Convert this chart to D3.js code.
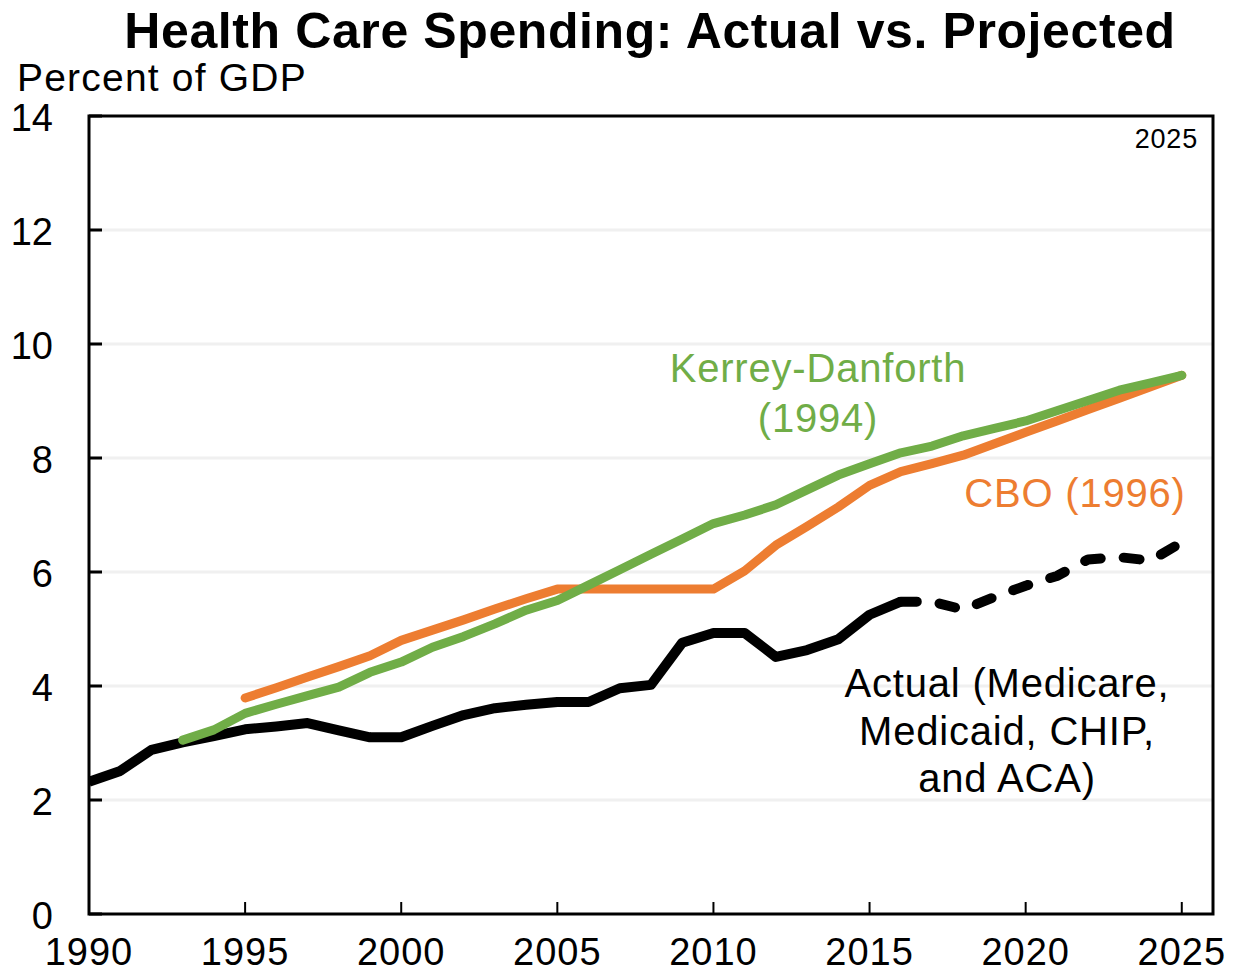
<!DOCTYPE html>
<html>
<head>
<meta charset="utf-8">
<script src="https://cdn.jsdelivr.net/npm/d3@7"></script>
<style>
  body { margin: 0; background: #fff; }
  text { font-family: "Liberation Sans", Arial, sans-serif; }
</style>
</head>
<body>
<div id="chart"></div>
<script>
let w = 1234;
let h = 973;

// data
let actualYears = d3.range(1990, 2026);
let actualValues = [2.32, 2.51, 2.88, 3.01, 3.12, 3.24, 3.29, 3.35, 3.22, 3.1,
    3.1, 3.3, 3.49, 3.61, 3.67, 3.72, 3.72, 3.96, 4.02, 4.76,
    4.93, 4.93, 4.51, 4.63, 4.82, 5.25, 5.48, 5.48, 5.34, 5.56,
    5.76, 5.93, 6.22, 6.26, 6.2, 6.52];
let actualSolidEnd = 2016;

let cboYears = d3.range(1995, 2026);
let cboValues = [3.79, 3.97, 4.16, 4.34, 4.53, 4.8, 4.98, 5.16, 5.35, 5.53,
    5.7, 5.7, 5.7, 5.7, 5.7, 5.7, 6.02, 6.47, 6.8, 7.14,
    7.52, 7.76, 7.9, 8.05, 8.25, 8.45, 8.65, 8.85, 9.05, 9.25, 9.45];

let kdYears = d3.range(1993, 2026);
let kdValues = [3.05, 3.23, 3.52, 3.68, 3.83, 3.98, 4.24, 4.42, 4.68, 4.87,
    5.09, 5.33, 5.5, 5.77, 6.04, 6.31, 6.58, 6.85, 7.0, 7.18,
    7.44, 7.7, 7.9, 8.09, 8.21, 8.39, 8.52, 8.65, 8.83, 9.01,
    9.19, 9.32, 9.45];

let yTicks = [0, 2, 4, 6, 8, 10, 12, 14];
let xTicks = [1990, 1995, 2000, 2005, 2010, 2015, 2020, 2025];

let plotLeft = 89, plotRight = 1213, plotTop = 116, plotBottom = 914;

let svg = d3.select("#chart")
    .append("svg")
    .attr("width", w)
    .attr("height", h);

let x = d3.scaleLinear().domain([1990, 2026]).range([plotLeft, plotRight]);
let y = d3.scaleLinear().domain([0, 14]).range([plotBottom, plotTop]);

// gridlines
svg.selectAll(".grid")
    .data(yTicks.filter(d => d > 0 && d < 14))
    .enter()
    .append("line")
    .attr("class", "grid")
    .attr("x1", plotLeft)
    .attr("x2", plotRight)
    .attr("y1", d => y(d))
    .attr("y2", d => y(d))
    .attr("stroke", "#f0f0f0")
    .attr("stroke-width", 3);

// clip so lines stop at the frame
svg.append("clipPath").attr("id", "plotclip")
    .append("rect")
    .attr("x", plotLeft).attr("y", plotTop)
    .attr("width", plotRight - plotLeft).attr("height", plotBottom - plotTop);

let line = d3.line()
    .x(d => x(d[0]))
    .y(d => y(d[1]));

let actual = actualYears.map((yr, i) => [yr, actualValues[i]]);
let cbo = cboYears.map((yr, i) => [yr, cboValues[i]]);
let kd = kdYears.map((yr, i) => [yr, kdValues[i]]);

let plot = svg.append("g").attr("clip-path", "url(#plotclip)");

// actual first, projections drawn over it
plot.append("path")
    .datum(actual.filter(d => d[0] <= actualSolidEnd))
    .attr("d", line)
    .attr("fill", "none")
    .attr("stroke", "#000")
    .attr("stroke-width", 10)
    .attr("stroke-linejoin", "round");

plot.append("path")
    .datum(actual.filter(d => d[0] >= actualSolidEnd))
    .attr("d", line)
    .attr("fill", "none")
    .attr("stroke", "#000")
    .attr("stroke-width", 10)
    .attr("stroke-linecap", "round")
    .attr("stroke-linejoin", "round")
    .attr("stroke-dasharray", "16,23");

plot.append("path")
    .datum(cbo)
    .attr("d", line)
    .attr("fill", "none")
    .attr("stroke", "#ED7D31")
    .attr("stroke-width", 9)
    .attr("stroke-linecap", "round")
    .attr("stroke-linejoin", "round");

plot.append("path")
    .datum(kd)
    .attr("d", line)
    .attr("fill", "none")
    .attr("stroke", "#70AD47")
    .attr("stroke-width", 9)
    .attr("stroke-linecap", "round")
    .attr("stroke-linejoin", "round");

// frame
svg.append("rect")
    .attr("x", plotLeft).attr("y", plotTop)
    .attr("width", plotRight - plotLeft).attr("height", plotBottom - plotTop)
    .attr("fill", "none")
    .attr("stroke", "#000")
    .attr("stroke-width", 3);

// y axis ticks (inside) + labels
svg.selectAll(".ytick")
    .data(yTicks)
    .enter()
    .append("line")
    .attr("x1", plotLeft).attr("x2", plotLeft + 13)
    .attr("y1", d => y(d)).attr("y2", d => y(d))
    .attr("stroke", "#000").attr("stroke-width", 3);

svg.selectAll(".ylab")
    .data(yTicks)
    .enter()
    .append("text")
    .attr("x", 53)
    .attr("y", d => y(d) + 15)
    .attr("text-anchor", "end")
    .attr("font-size", 38)
    .text(d => d);

// x axis ticks (inside) + labels
svg.selectAll(".xtick")
    .data(xTicks)
    .enter()
    .append("line")
    .attr("x1", d => x(d)).attr("x2", d => x(d))
    .attr("y1", plotBottom).attr("y2", plotBottom - 12)
    .attr("stroke", "#000").attr("stroke-width", 2);

svg.selectAll(".xlab")
    .data(xTicks)
    .enter()
    .append("text")
    .attr("x", d => x(d))
    .attr("y", 965)
    .attr("text-anchor", "middle")
    .attr("font-size", 38)
    .attr("letter-spacing", 1)
    .text(d => d);

// titles
svg.append("text")
    .attr("x", 650).attr("y", 48)
    .attr("text-anchor", "middle")
    .attr("font-size", 50)
    .attr("font-weight", "bold")
    .attr("letter-spacing", 0.6)
    .text("Health Care Spending: Actual  vs. Projected");

svg.append("text")
    .attr("x", 17).attr("y", 91)
    .attr("font-size", 39)
    .attr("letter-spacing", 1.2)
    .text("Percent of GDP");

svg.append("text")
    .attr("x", 1198).attr("y", 148)
    .attr("text-anchor", "end")
    .attr("font-size", 27)
    .attr("letter-spacing", 0.8)
    .text("2025");

// series labels
function multiLabel(lines, cx, y0, dy, color) {
    let t = svg.append("text")
        .attr("text-anchor", "middle")
        .attr("font-size", 40)
        .attr("letter-spacing", 0.8)
        .attr("fill", color);
    lines.forEach((s, i) => {
        t.append("tspan").attr("x", cx).attr("y", y0 + i * dy).text(s);
    });
}

multiLabel(["Kerrey-Danforth", "(1994)"], 818, 382, 50, "#70AD47");
multiLabel(["CBO (1996)"], 1075, 507, 0, "#ED7D31");
multiLabel(["Actual (Medicare,", "Medicaid, CHIP,", "and ACA)"], 1007, 697, 47.5, "#000");
</script>
</body>
</html>
